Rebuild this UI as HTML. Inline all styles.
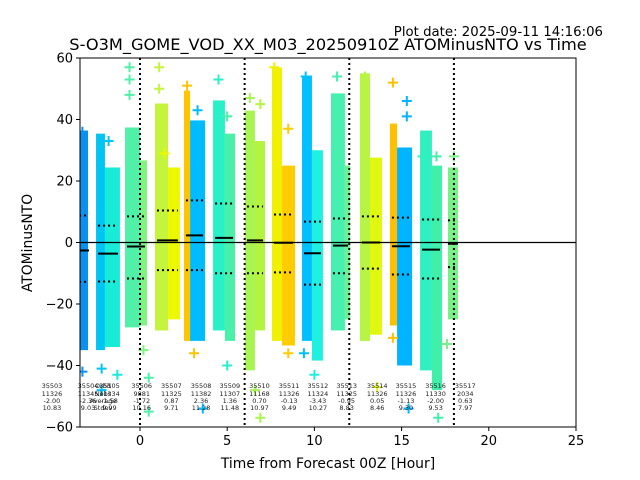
<!DOCTYPE html>
<html><head><meta charset="utf-8">
<style>
html,body{margin:0;padding:0;background:#fff;}
svg{display:block;font-family:"DejaVu Sans","Liberation Sans",sans-serif;}
</style></head>
<body>
<svg id="chart" width="640" height="480" viewBox="0 0 640 480" xmlns="http://www.w3.org/2000/svg">
<text x="603" y="36" font-size="13.3" text-anchor="end">Plot date: 2025-09-11 14:16:06</text>
<text x="328" y="50" font-size="16.2" text-anchor="middle">S-O3M_GOME_VOD_XX_M03_20250910Z ATOMinusNTO vs Time</text>
<g id="plot"></g>
<text x="328" y="468" font-size="13.9" text-anchor="middle">Time from Forecast 00Z [Hour]</text>
<text x="32" y="243" font-size="13.9" text-anchor="middle" transform="rotate(-90 32 243)">ATOMinusNTO</text>
</svg>
<script>
// ---- data ----
const segX0 = [-3.44,-2.52,-2.01,-0.86,0,0.86,1.61,2.52,2.87,4.19,4.87,6.02,6.59,7.57,8.14,9.29,9.86,10.95,11.75,12.61,13.19,14.33,14.74,16.06,16.74,17.66];
const segX1 = [-2.98,-2.01,-1.15,0,0.4,1.61,2.29,2.87,3.73,4.87,5.45,6.59,7.17,8.14,8.89,9.86,10.49,11.75,12.04,13.19,13.88,14.74,15.6,16.74,17.32,18.23];
const segTop = [36.4,35.4,24.4,37.4,26.7,45.2,24.4,49.4,39.7,46.2,35.4,42.9,33,56.9,25,54.3,30,48.5,25,55,27.6,38.7,30.9,36.4,25,24.4];
const segBot = [-35,-35,-34,-27.6,-27,-28.6,-25,-32,-32,-28.6,-32,-41.6,-28.6,-32,-33.5,-32,-38.4,-28.6,-25,-32,-30,-27,-40,-41.6,-48,-25];
const segColor = ["#0a90f0","#00c4f4","#18ecd8","#50f0a8","#80f480","#c4f43c","#ecf800","#ffc400","#00bcff","#28f0c8","#48f0a8","#a8f450","#b4f440","#f0f000","#ffcc00","#00c0ff","#20f0e0","#48f0b0","#70f090","#b8f444","#e0f810","#ffc000","#00b4ff","#30f0c0","#40f0a8","#78f088"];
const grpX0 = [-3.44,-2.52,-0.86,0.86,2.52,4.19,6.02,7.57,9.29,10.95,12.61,14.33,16.06,17.66];
const grpX1 = [-2.98,-1.15,0.4,2.29,3.73,5.45,7.17,8.89,10.49,12.04,13.88,15.6,17.32,18.23];
const grpMean = [-2.6,-3.6,-1.3,0.7,2.3,1.5,0.7,-0.1,-3.5,-1.0,0.0,-1.2,-2.3,-0.4];
const grpHi = [8.8,5.5,8.5,10.4,13.7,12.7,11.7,9.1,6.8,7.8,8.5,8.1,7.5,7.2];
const grpLo = [-12.8,-12.7,-11.7,-9,-9,-10,-10,-9.7,-13.7,-10,-8.5,-10.4,-11.7,-8];
const outX = [-3.3,-1.8,-0.6,-0.6,-0.6,1.1,1.1,1.4,2.7,3.3,4.5,5.0,6.3,6.9,7.7,8.5,9.5,11.3,12.9,14.5,15.3,15.3,16.2,17.0,18.0,-3.3,-2.2,-2.2,0.5,0.5,-1.3,3.1,3.6,5.0,6.9,6.6,8.5,9.4,10.0,14.5,15.4,17.1,17.6,13.6,0.2];
const outY = [36,33,57,48,53,57,50,29,51,43,53,41,47,45,57,37,54,54,54,52,46,41,28,28,28,-42,-48,-41,-55,-44,-43,-36,-54,-40,-57,-48,-36,-36,-43,-31,-54,-57,-33,-47,-35];
const outC = ["#0a90f0","#00c4f4","#50f0a8","#50f0a8","#50f0a8","#c4f43c","#c4f43c","#ecf800","#ffc400","#00bcff","#28f0c8","#48f0a8","#a8f450","#b4f440","#f0f000","#ffcc00","#00c0ff","#48f0b0","#b8f444","#ffc000","#00b4ff","#00b4ff","#30f0c0","#40f0a8","#78f088","#0a90f0","#00c4f4","#00c4f4","#50f0a8","#50f0a8","#18ecd8","#ffc400","#00bcff","#28f0c8","#a8f450","#a8f450","#ffcc00","#00c0ff","#20f0e0","#ffc000","#00b4ff","#40f0a8","#78f088","#e0f810","#80f480"];
const lblX = [-5.05,-2.98,-1.75,0.1,1.8,3.5,5.15,6.85,8.55,10.2,11.85,13.6,15.25,16.95,18.65];
const lblOrbit = ["35503","35504","35505","35506","35507","35508","35509","35510","35511","35512","35513","35514","35515","35516","35517"];
const lblN = ["11326","11345","11334","9881","11325","11382","11307","11168","11326","11324","11325","11326","11326","11330","2034"];
const lblAvg = ["-2.00","-2.36","-1.58","-1.72","0.87","2.36","1.36","0.70","-0.13","-3.43","-0.95","0.05","-1.13","-2.00","0.63"];
const lblStd = ["10.83","9.03","9.99","10.16","9.71","11.28","11.48","10.97","9.49","10.27","8.83","8.46","9.30","9.53","7.97"];
const xTicks = [0,5,10,15,20,25];
const yTicks = [-60,-40,-20,0,20,40,60];
const vLines = [0,6,12,18];

// ---- axes ----
const L=80,R=576,T=58,B=427, XMIN=-3.44, XMAX=25, YMIN=-60, YMAX=60;
const sx=v=>L+(v-XMIN)/(XMAX-XMIN)*(R-L);
const sy=v=>B-(v-YMIN)/(YMAX-YMIN)*(B-T);
const NS="http://www.w3.org/2000/svg";
const plot=document.getElementById('plot');
const svg=document.getElementById('chart');
function mk(tag,attrs,parent){const e=document.createElementNS(NS,tag);for(const k in attrs)e.setAttribute(k,attrs[k]);(parent||plot).appendChild(e);return e;}

const defs=mk('defs',{},svg);
const cp=mk('clipPath',{id:'clip'},defs);
mk('rect',{x:L,y:T,width:R-L,height:B-T},cp);
const g=mk('g',{'clip-path':'url(#clip)'});



for(let i=0;i<segX0.length;i++){
  const r=mk('rect',{x:sx(segX0[i]),y:sy(segTop[i]),width:sx(segX1[i])-sx(segX0[i]),height:sy(segBot[i])-sy(segTop[i]),fill:segColor[i]},g);
  
  
}
for(let i=0;i<outX.length;i++){
  const x=sx(outX[i]),y=sy(outY[i]);
  const p=mk('path',{d:`M${x-5} ${y}H${x+5}M${x} ${y-5}V${y+5}`,stroke:outC[i],'stroke-width':2},g);
  
  
}
const zl=mk('line',{x1:L,x2:R,y1:sy(0),y2:sy(0),stroke:'#000','stroke-width':1.2},g);


for(let i=0;i<grpX0.length;i++){
  const cx=(sx(grpX0[i])+sx(grpX1[i]))/2, w=Math.max(10,sx(grpX1[i])-sx(grpX0[i])-4);
  const m=mk('line',{x1:cx-w/2,x2:cx+w/2,y1:sy(grpMean[i]),y2:sy(grpMean[i]),stroke:'#000','stroke-width':2},g);
  
  
  [grpHi[i],grpLo[i]].forEach(v=>{
    const d=mk('line',{x1:cx-w/2,x2:cx+w/2,y1:sy(v),y2:sy(v),stroke:'#000','stroke-width':2,'stroke-dasharray':'2 3'},g);
    
    
  });
}
vLines.forEach(v=>{
  const l=mk('line',{x1:sx(v),x2:sx(v),y1:T,y2:B,stroke:'#000','stroke-width':2,'stroke-dasharray':'2 3'},g);
  
  
});
const lg=mk('g',{});


const ly=[388,396,403,410];
['Orbit','Nobs','Average','Stdev'].forEach((s,k)=>{
  const t=mk('text',{x:103,y:ly[k],'font-size':6.5,'text-anchor':'middle',fill:'#222'},lg);
  t.textContent=s;
  
  
});
for(let i=0;i<lblX.length;i++){
  [lblOrbit[i],lblN[i],lblAvg[i],lblStd[i]].forEach((s,k)=>{
    const t=mk('text',{x:sx(lblX[i]),y:ly[k],'font-size':6.5,'text-anchor':'middle',fill:'#222'},lg);
    t.textContent=s;
    
    
  });
}
const fr=mk('rect',{x:L,y:T,width:R-L,height:B-T,fill:'none',stroke:'#000','stroke-width':1});


xTicks.forEach(v=>{
  const x=sx(v);
  mk('line',{x1:x,x2:x,y1:B,y2:B+4,stroke:'#000'});
  const t=mk('text',{x:x,y:B+18,'font-size':13,'text-anchor':'middle'});
  t.textContent=v;
  
  
});
yTicks.forEach(v=>{
  const y=sy(v);
  mk('line',{x1:L-4,x2:L,y1:y,y2:y,stroke:'#000'});
  const t=mk('text',{x:L-7,y:y+4.5,'font-size':13,'text-anchor':'end'});
  t.textContent=(v<0?'\u2212'+(-v):v);
  
  
});
</script>
</body></html>
